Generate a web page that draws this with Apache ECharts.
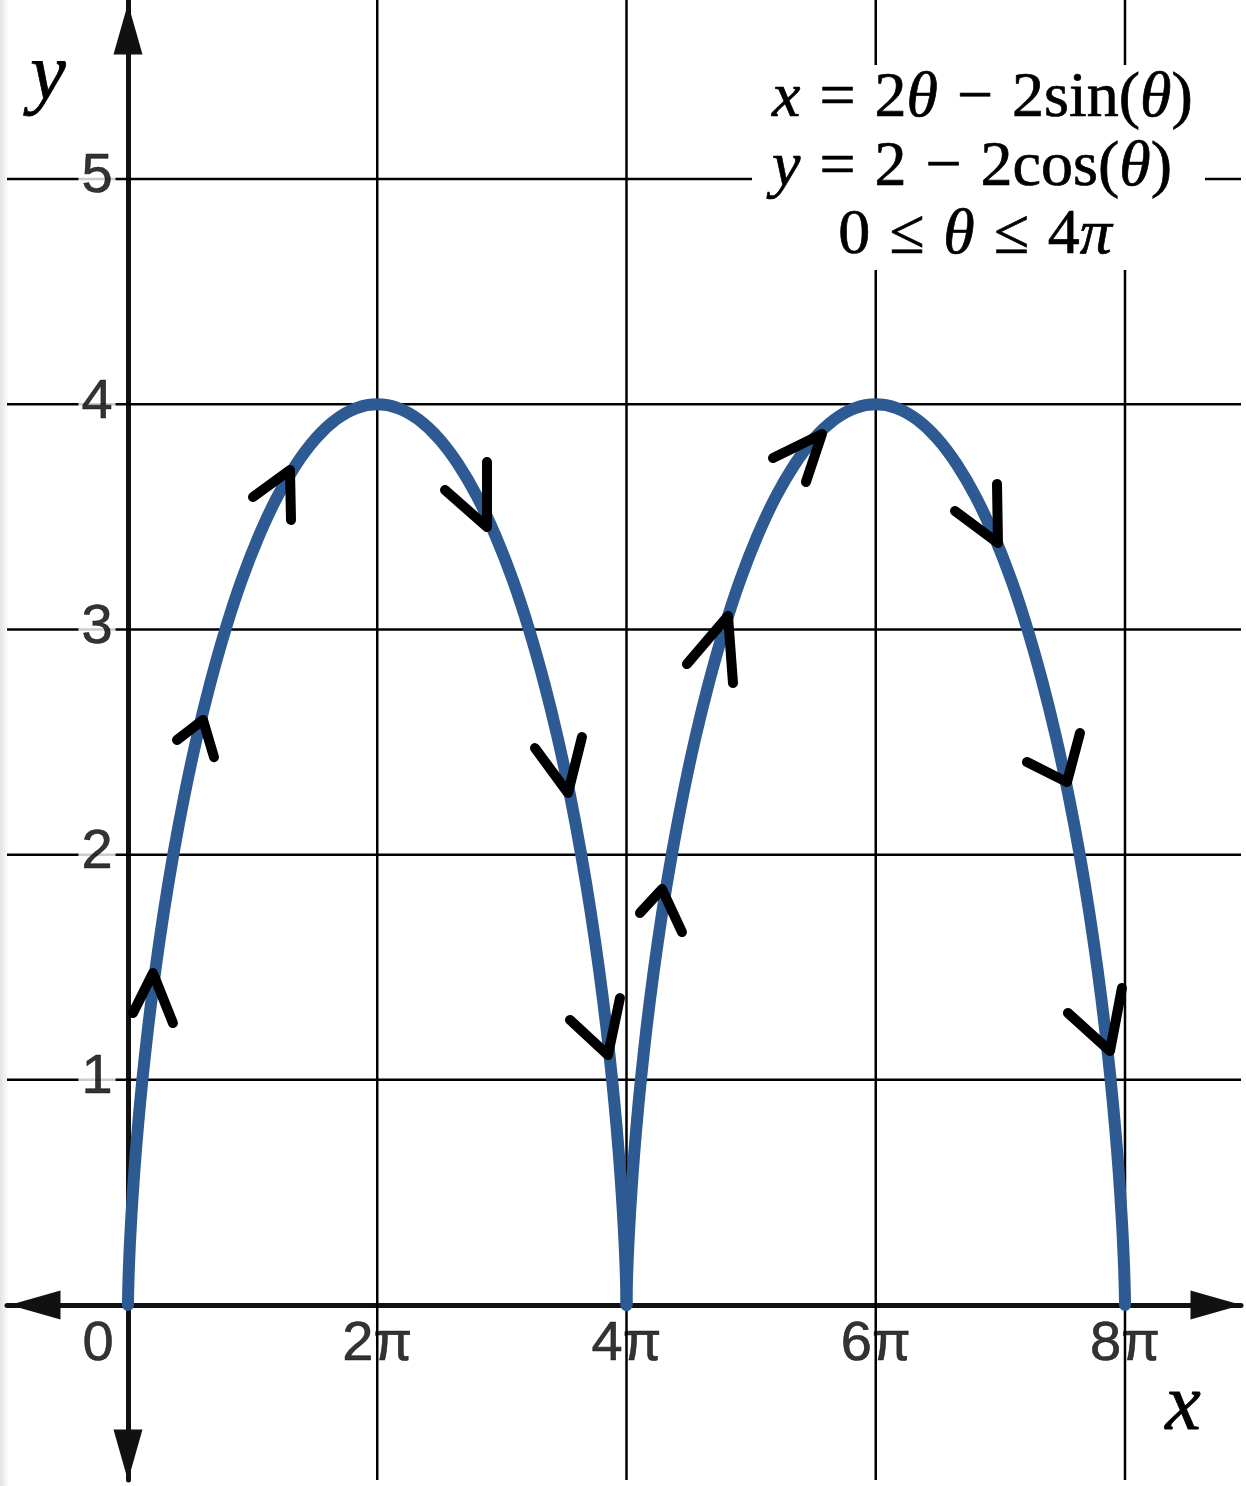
<!DOCTYPE html>
<html>
<head>
<meta charset="utf-8">
<script src="https://cdn.jsdelivr.net/npm/echarts@6/dist/echarts.min.js"></script>
<style>
html,body{margin:0;padding:0;background:#fff;}
#chart{width:1246px;height:1486px;}
</style>
</head>
<body>
<div id="chart"></div>
<script>
// ---------- data ----------
const PI = Math.PI;
const xTickValues = [0, 2 * PI, 4 * PI, 6 * PI, 8 * PI];
const xTickLabels = ['0', '2π', '4π', '6π', '8π'];
const yTickValues = [1, 2, 3, 4, 5];
const yTickLabels = ['1', '2', '3', '4', '5'];

// first arch of the cycloid (x, y)
const arch1X = [0, 0.0007, 0.0060, 0.0200, 0.0472, 0.0915, 0.1566, 0.2459, 0.3623, 0.5084, 0.6861, 0.8969,
                1.1416, 1.4205, 1.7333, 2.0792, 2.4567, 2.8639, 3.2982, 3.7567, 4.2360, 4.7324, 5.2420, 5.7603,
                6.2832, 6.8061, 7.3244, 7.8340, 8.3304, 8.8097, 9.2682, 9.7025, 10.1097, 10.4872, 10.8331, 11.1459,
                11.4248, 11.6695, 11.8803, 12.0580, 12.2041, 12.3205, 12.4098, 12.4749, 12.5192, 12.5464, 12.5604,
                12.5657, 12.5664];
const arch1Y = [0, 0.017, 0.068, 0.152, 0.268, 0.413, 0.586, 0.783, 1, 1.235, 1.482, 1.739,
                2, 2.261, 2.518, 2.765, 3, 3.218, 3.414, 3.587, 3.732, 3.848, 3.932, 3.983,
                4, 3.983, 3.932, 3.848, 3.732, 3.587, 3.414, 3.218, 3, 2.765, 2.518, 2.261,
                2, 1.739, 1.482, 1.235, 1, 0.783, 0.586, 0.413, 0.268, 0.152, 0.068,
                0.017, 0];
// second arch
const arch2X = [12.5664, 12.5671, 12.5724, 12.5864, 12.6136, 12.6579, 12.7230, 12.8123, 12.9287, 13.0748, 13.2525, 13.4633,
                13.7080, 13.9869, 14.2997, 14.6456, 15.0231, 15.4303, 15.8646, 16.3231, 16.8024, 17.2988, 17.8084, 18.3267,
                18.8496, 19.3725, 19.8908, 20.4004, 20.8968, 21.3761, 21.8346, 22.2689, 22.6761, 23.0536, 23.3995, 23.7123,
                23.9912, 24.2359, 24.4467, 24.6244, 24.7705, 24.8869, 24.9762, 25.0413, 25.0856, 25.1128, 25.1268,
                25.1321, 25.1327];
const arch2Y = [0, 0.017, 0.068, 0.152, 0.268, 0.413, 0.586, 0.783, 1, 1.235, 1.482, 1.739,
                2, 2.261, 2.518, 2.765, 3, 3.218, 3.414, 3.587, 3.732, 3.848, 3.932, 3.983,
                4, 3.983, 3.932, 3.848, 3.732, 3.587, 3.414, 3.218, 3, 2.765, 2.518, 2.261,
                2, 1.739, 1.482, 1.235, 1, 0.783, 0.586, 0.413, 0.268, 0.152, 0.068,
                0.017, 0];

// hand-drawn direction arrows: apex, end of arm A, end of arm B (data units)
const arrowApex = [[0.63, 1.474], [1.891, 2.598], [4.084, 3.708], [9.050, 3.455], [11.092, 2.274], [12.100, 1.110],
                   [13.461, 1.847], [15.125, 3.060], [17.494, 3.868], [21.931, 3.384], [23.670, 2.322], [24.754, 1.128]];
const arrowArmA = [[0.126, 1.297], [1.235, 2.509], [3.151, 3.588], [7.991, 3.619], [10.260, 2.473], [11.142, 1.266],
                   [12.907, 1.741], [14.091, 2.846], [16.259, 3.761], [20.847, 3.526], [22.662, 2.411], [23.695, 1.297]];
const arrowArmB = [[1.134, 1.252], [2.168, 2.433], [4.109, 3.486], [9.050, 3.743], [11.444, 2.522], [12.402, 1.363],
                   [13.965, 1.656], [15.251, 2.762], [17.091, 3.655], [21.906, 3.646], [23.998, 2.540], [25.056, 1.408]];

const X_MIN = -3.050, X_MAX = 28.057;
const Y_MIN = -0.777, Y_MAX = 5.795;

// ---------- chart ----------
const chart = echarts.init(document.getElementById('chart'), null, {renderer: 'canvas'});

const zip = (xs, ys) => xs.map((x, i) => [x, ys[i]]);
const curveStyle = {color: '#2d5a92', width: 12, cap: 'round', join: 'round'};

const EQ_SIZE = 64;
const eqBase = {fontFamily: 'Liberation Serif', fontSize: EQ_SIZE, fill: '#000', stroke: '#000', lineWidth: 0.7};
const eqRich = {
  n: Object.assign({}, eqBase),
  i: Object.assign({fontStyle: 'italic'}, eqBase),
  op: Object.assign({padding: [0, 19]}, eqBase)
};

const option = {
  backgroundColor: '#fff',
  animation: false,
  grid: {left: 7, right: 5, top: 0, bottom: 6, containLabel: false, outerBoundsMode: 'none'},
  xAxis: {
    type: 'value', min: X_MIN, max: X_MAX,
    splitLine: {show: false}, axisTick: {show: false}, axisLabel: {show: false},
    axisLine: {onZero: true, lineStyle: {color: '#111', width: 5},
      symbol: ['triangle', 'triangle'], symbolSize: [29, 51], symbolOffset: [28, -25]}
  },
  yAxis: {
    type: 'value', min: Y_MIN, max: Y_MAX,
    splitLine: {show: false}, axisTick: {show: false}, axisLabel: {show: false},
    axisLine: {onZero: true, lineStyle: {color: '#111', width: 5},
      symbol: ['triangle', 'triangle'], symbolSize: [29, 51], symbolOffset: [25, -29]}
  },
  graphic: [
    {type: 'rect', z: 0, silent: true, shape: {x: 0, y: 0, width: 9, height: 1486},
      style: {fill: new echarts.graphic.LinearGradient(0, 0, 1, 0, [
        {offset: 0, color: '#e2e2e2'}, {offset: 1, color: '#ffffff'}])}},
    {type: 'rect', z: 10, silent: true, shape: {x: 752, y: 65, width: 453, height: 205}, style: {fill: '#fff'}},
    {type: 'text', z: 11, silent: true, x: 772, y: 99,
      style: {text: '{i|x}{op|=}{n|2}{i|θ}{op|−}{n|2sin(}{i|θ}{n|)}', rich: eqRich,
        fontFamily: 'Liberation Serif', fontSize: EQ_SIZE, fill: '#000', align: 'left', verticalAlign: 'middle'}},
    {type: 'text', z: 11, silent: true, x: 772, y: 168,
      style: {text: '{i|y}{op|=}{n|2}{op|−}{n|2cos(}{i|θ}{n|)}', rich: eqRich,
        fontFamily: 'Liberation Serif', fontSize: EQ_SIZE, fill: '#000', align: 'left', verticalAlign: 'middle'}},
    {type: 'text', z: 11, silent: true, x: 975, y: 236,
      style: {text: '{n|0}{op|≤}{i|θ}{op|≤}{n|4}{i|π}', rich: eqRich,
        fontFamily: 'Liberation Serif', fontSize: EQ_SIZE, fill: '#000', align: 'center', verticalAlign: 'middle'}},
    {type: 'text', z: 11, silent: true, x: 48, y: 78,
      style: {text: 'y', fontFamily: 'Liberation Serif', fontStyle: 'italic', fontSize: 80, fill: '#000',
        stroke: '#000', lineWidth: 0.8, align: 'center', verticalAlign: 'middle'}},
    {type: 'text', z: 11, silent: true, x: 1183, y: 1408,
      style: {text: 'x', fontFamily: 'Liberation Serif', fontStyle: 'italic', fontSize: 80, fill: '#000',
        stroke: '#000', lineWidth: 0.8, align: 'center', verticalAlign: 'middle'}}
  ],
  series: [
    { // grid lines
      type: 'custom', z: 1, silent: true,
      data: xTickValues.slice(1).map(v => [v, 0]).concat(yTickValues.map(v => [v, 1])),
      renderItem: (params, api) => {
        const v = api.value(0), vertical = api.value(1) === 0;
        const p1 = vertical ? api.coord([v, Y_MIN]) : api.coord([X_MIN, v]);
        const p2 = vertical ? api.coord([v, Y_MAX]) : api.coord([X_MAX, v]);
        return {type: 'line', shape: {x1: p1[0], y1: p1[1], x2: p2[0], y2: p2[1]},
          style: {stroke: '#000', lineWidth: 2.5}};
      }
    },
    {type: 'line', z: 3, silent: true, data: zip(arch1X, arch1Y), showSymbol: false, symbol: 'none',
      smooth: 0.3, lineStyle: curveStyle},
    {type: 'line', z: 3, silent: true, data: zip(arch2X, arch2Y), showSymbol: false, symbol: 'none',
      smooth: 0.3, lineStyle: curveStyle},
    { // direction arrows
      type: 'custom', z: 4, silent: true,
      data: arrowApex.map((p, i) => [p[0], p[1], arrowArmA[i][0], arrowArmA[i][1], arrowArmB[i][0], arrowArmB[i][1]]),
      renderItem: (params, api) => {
        const p = api.coord([api.value(0), api.value(1)]);
        const a = api.coord([api.value(2), api.value(3)]);
        const b = api.coord([api.value(4), api.value(5)]);
        return {type: 'polyline', shape: {points: [a, p, b]},
          style: {stroke: '#000', lineWidth: 10, fill: null, lineCap: 'round', lineJoin: 'round'}};
      }
    },
    { // x tick labels
      type: 'scatter', z: 5, silent: true, symbolSize: 0,
      data: xTickValues.map((v, i) => ({value: [v, 0], label: {formatter: xTickLabels[i], offset: i === 0 ? [-30, 40] : [0, 40]}})),
      label: {show: true, position: 'inside', fontFamily: 'Liberation Sans', fontSize: 56, color: '#000',
        textBorderColor: '#000', textBorderWidth: 0.6}
    },
    { // y tick labels
      type: 'scatter', z: 5, silent: true, symbolSize: 0,
      data: yTickValues.map((v, i) => ({value: [0, v], label: {formatter: yTickLabels[i]}})),
      label: {show: true, position: 'inside', offset: [-31, -2], fontFamily: 'Liberation Sans', fontSize: 56, color: '#000',
        textBorderColor: '#000', textBorderWidth: 0.6, backgroundColor: '#fff', padding: [0, 3]}
    }
  ]
};
chart.setOption(option);
</script>
</body>
</html>
